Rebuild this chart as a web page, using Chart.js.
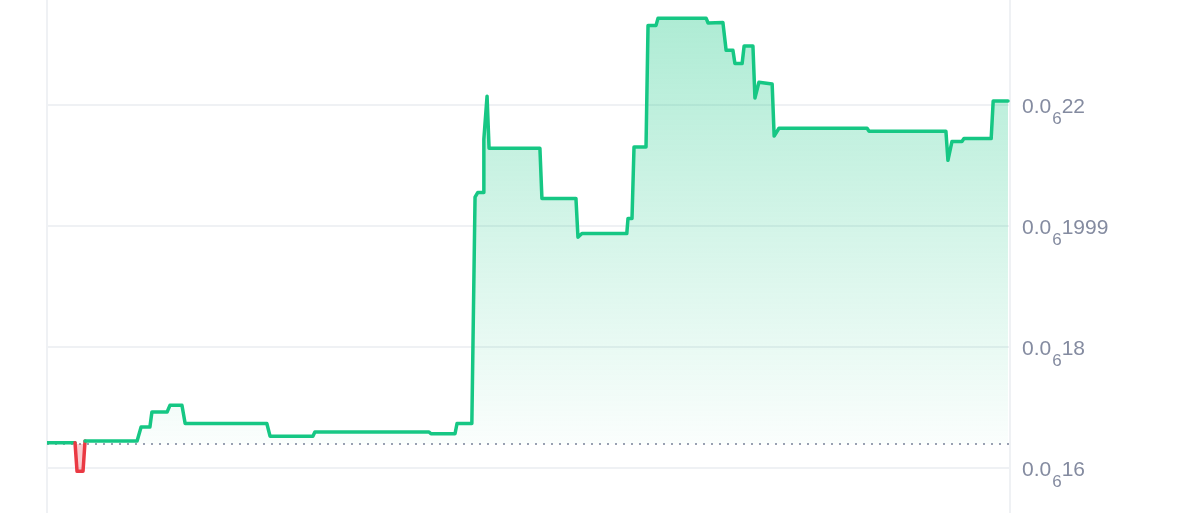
<!DOCTYPE html>
<html>
<head>
<meta charset="utf-8">
<script src="https://cdn.jsdelivr.net/npm/chart.js@4.4.1/dist/chart.umd.min.js"></script>
<style>
  html, body { margin: 0; padding: 0; background: #fff; }
  #wrap { width: 1200px; height: 513px; }
</style>
</head>
<body>
<div id="wrap"><canvas id="priceChart"></canvas></div>
<script>
// Cours sur 24 h, prix en unités de 0.000001 (affiché 0.0₆xx).

const green = '#16c784';
const red = '#ea3943';
const basePrice = 0.1640; // prix d'ouverture (ligne pointillée)

// heures depuis l'ouverture
const times = [
  0, 0.70, 0.75, 0.90, 0.95, 2.25, 2.35, 2.57, 2.62, 3.00,
  3.07, 3.37, 3.45, 5.49, 5.57, 6.64, 6.69, 9.54, 9.59, 10.19,
  10.24, 10.61, 10.69, 10.76, 10.89, 10.91, 10.99, 11.04, 12.31, 12.36,
  13.21, 13.26, 13.36, 14.48, 14.51, 14.61, 14.66, 14.96, 15.01, 15.21,
  15.26, 16.46, 16.51, 16.88, 16.96, 17.13, 17.18, 17.36, 17.41, 17.63,
  17.68, 17.78, 18.11, 18.16, 18.28, 20.48, 20.53, 22.45, 22.50, 22.60,
  22.85, 22.90, 23.58, 23.63, 24.00,
];
const prices = [
  0.1642, 0.1642, 0.1595, 0.1595, 0.1645, 0.1645, 0.1668, 0.1668, 0.1693, 0.1693,
  0.1704, 0.1704, 0.1674, 0.1674, 0.1653, 0.1653, 0.1660, 0.1660, 0.1657, 0.1657,
  0.1674, 0.1674, 0.2048, 0.2056, 0.2056, 0.2144, 0.2215, 0.2129, 0.2129, 0.2046,
  0.2046, 0.1982, 0.1988, 0.1988, 0.2013, 0.2013, 0.2131, 0.2131, 0.2332, 0.2332,
  0.2344, 0.2344, 0.2336, 0.2337, 0.2291, 0.2291, 0.2269, 0.2269, 0.2298, 0.2298,
  0.2212, 0.2238, 0.2235, 0.2149, 0.2162, 0.2162, 0.2157, 0.2157, 0.2109, 0.2140,
  0.2140, 0.2145, 0.2145, 0.2207, 0.2207,
];

// graduations de l'axe de droite
const tickValues = [0.16, 0.18, 0.2, 0.22];
const tickDigits = ['16', '18', '1999', '22'];
const tickPrefix = '0.0';
const tickZeros = '6';

const canvas = document.getElementById('priceChart');
const g = canvas.getContext('2d');
const fillGreen = g.createLinearGradient(0, 0, 0, 444);
fillGreen.addColorStop(0, 'rgba(22,199,132,0.36)');
fillGreen.addColorStop(1, 'rgba(22,199,132,0.02)');

// étiquettes 0.0₆xx avec l'indice plus petit
const subLabels = {
  id: 'subLabels',
  afterDraw(chart) {
    const y = chart.scales.y;
    const c = chart.ctx;
    c.save();
    c.fillStyle = '#848ba0';
    c.textBaseline = 'alphabetic';
    tickValues.forEach((v, i) => {
      const py = y.getPixelForValue(v);
      let px = chart.chartArea.right + 12;
      c.font = '21px "Liberation Sans", Arial, sans-serif';
      c.fillText(tickPrefix, px, py + 8);
      px += c.measureText(tickPrefix).width;
      c.font = '17px "Liberation Sans", Arial, sans-serif';
      c.fillText(tickZeros, px + 1, py + 19);
      px += c.measureText(tickZeros).width + 1;
      c.font = '21px "Liberation Sans", Arial, sans-serif';
      c.fillText(tickDigits[i], px, py + 8);
    });
    c.restore();
  },
};

new Chart(canvas, {
  type: 'line',
  data: {
    datasets: [
      {
        data: times.map((t, i) => ({ x: t, y: prices[i] })),
        borderColor: green,
        borderWidth: 3.5,
        borderJoinStyle: 'round',
        borderCapStyle: 'round',
        pointRadius: 0,
        tension: 0,
        fill: { target: { value: basePrice }, above: fillGreen, below: 'rgba(234,57,67,0.25)' },
        segment: {
          borderColor: (ctx) => (ctx.p0.parsed.y < basePrice || ctx.p1.parsed.y < basePrice ? red : green),
        },
      },
      {
        data: [{ x: times[0], y: basePrice }, { x: 24.05, y: basePrice }],
        borderColor: '#9aa0b2',
        borderWidth: 2,
        borderDash: [2, 6],
        pointRadius: 0,
        fill: false,
      },
    ],
  },
  options: {
    responsive: true,
    maintainAspectRatio: false,
    animation: false,
    layout: { padding: { left: 47, top: 0, bottom: 0, right: 0 } },
    plugins: { legend: { display: false }, tooltip: { enabled: false } },
    scales: {
      x: { type: 'linear', display: false, min: 0, max: 24.05 },
      y: {
        position: 'right',
        min: 0.1526,
        max: 0.2374,
        afterBuildTicks: (axis) => { axis.ticks = tickValues.map((v) => ({ value: v })); },
        afterFit: (axis) => { axis.width = 190; },
        ticks: { display: false },
        grid: { color: '#eff1f4', lineWidth: 2, drawTicks: false },
        border: { display: true, color: '#eff1f4', width: 2 },
      },
      yl: {
        position: 'left',
        min: 0.1526,
        max: 0.2374,
        afterFit: (axis) => { axis.width = 0; },
        ticks: { display: false },
        grid: { display: false },
        border: { display: true, color: '#eff1f4', width: 2 },
      },
    },
  },
  plugins: [subLabels],
});
</script>
</body>
</html>
